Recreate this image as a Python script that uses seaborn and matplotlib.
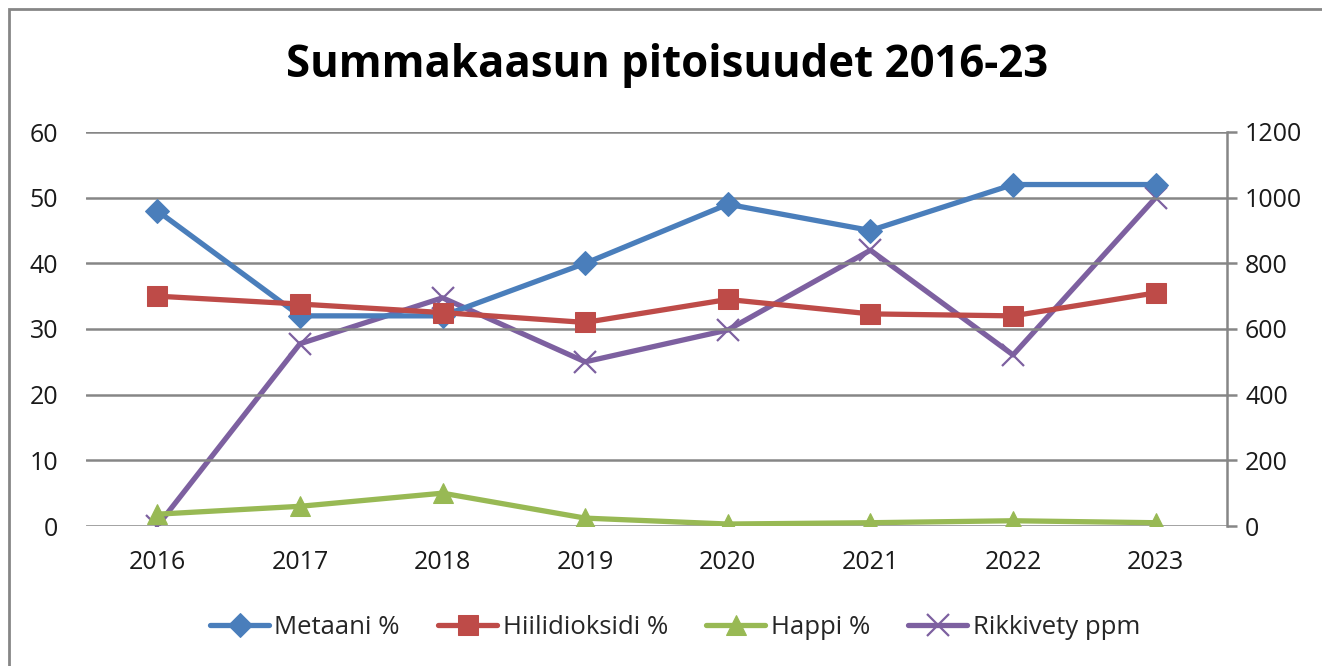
import numpy as np
import matplotlib.pyplot as plt
import seaborn as sns
from matplotlib.patches import Rectangle

# Data
years = [2016, 2017, 2018, 2019, 2020, 2021, 2022, 2023]
metaani = [48, 32, 32, 40, 49, 45, 52, 52]
hiilidioksidi = [35, 33.8, 32.5, 31, 34.5, 32.3, 32, 35.5]
happi = [1.8, 3, 5, 1.2, 0.3, 0.5, 0.8, 0.5]
rikkivety = [0, 555, 695, 500, 597, 840, 521, 1000]

labels = ["Metaani %", "Hiilidioksidi %", "Happi %", "Rikkivety ppm"]
colors = ["#4A7EBB", "#BE4B48", "#98B954", "#7D60A0"]

sns.set_style("white")
plt.rcParams['font.family'] = ['Open Sans', 'DejaVu Sans']

fig = plt.figure(figsize=(13.22, 6.66), dpi=100)
ax = fig.add_axes([86/1322, 1 - 526/666, (1227 - 86)/1322, (526 - 132)/666])
ax2 = ax.twinx()

handles = []
for vals, lab, col, mk, ms in [(metaani, labels[0], colors[0], 'D', 12),
                               (hiilidioksidi, labels[1], colors[1], 's', 15),
                               (happi, labels[2], colors[2], '^', 15)]:
    sns.lineplot(x=years, y=vals, ax=ax, color=col, marker=mk, markersize=ms,
                 markeredgecolor=col, linewidth=3.8, legend=False, zorder=3)
    ln = ax.lines[-1]
    ln.set_label(lab)
    handles.append(ln)

sns.lineplot(x=years, y=rikkivety, ax=ax2, color=colors[3], marker='x', markersize=16,
             markeredgewidth=1.6, markeredgecolor=colors[3], linewidth=3.8, legend=False)
ln = ax2.lines[-1]
ln.set_label(labels[3])
handles.append(ln)

ax.set_xlim(2015.5, 2023.5)
ax.set_xticks(years)
ax.set_xticklabels([str(y) for y in years])
ax.set_ylim(0, 60)
ax.set_yticks(range(0, 61, 10))
ax2.set_ylim(0, 1200)
ax2.set_yticks(range(0, 1201, 200))

ax.yaxis.grid(True, color='#868686', linewidth=1.8)
ax.set_axisbelow(True)
for s in ['top', 'left', 'right', 'bottom']:
    ax.spines[s].set_visible(False)
    ax2.spines[s].set_visible(False)
ax2.spines['right'].set_visible(True)
ax2.spines['right'].set_color('#868686')
ax2.spines['right'].set_linewidth(1.8)

ax.tick_params(axis='y', length=0, labelsize=18, colors='#1a1a1a', pad=20)
ax.tick_params(axis='x', length=0, labelsize=18, colors='#1a1a1a', pad=17)
ax2.tick_params(axis='y', length=7, width=1.8, color='#868686', labelsize=18,
                labelcolor='#1a1a1a', pad=6, direction='out')
ax2.set_ylabel("")
ax.set_ylabel("")

# draw lines on top of grid on twin axis
ax.set_zorder(ax2.get_zorder() + 1)
ax.patch.set_visible(False)

fig.suptitle("Summakaasun pitoisuudet 2016-23", x=667/1322, y=1 - 66/666, va='center',
             fontsize=31.5, fontweight='bold', color='black')

fig.legend(handles=handles, labels=labels, loc='center', bbox_to_anchor=(675/1322, 1 - 627/666),
           ncol=4, frameon=False, fontsize=18.5, handlelength=2.3, columnspacing=1.5,
           handletextpad=0.2)

fig.patches.append(Rectangle((9/1322, -0.1), 2, 1.1 - 9/666, transform=fig.transFigure,
                             fill=False, edgecolor='#868686', linewidth=2))

fig.savefig("out.png", dpi=100)
